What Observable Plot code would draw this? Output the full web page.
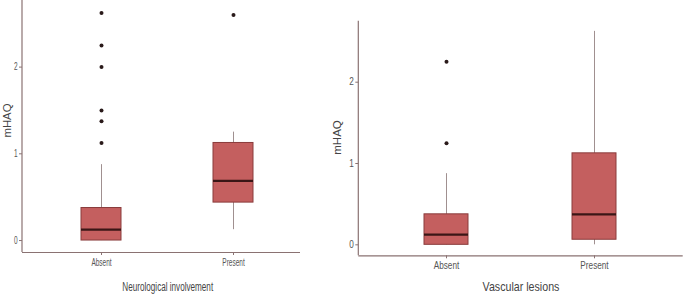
<!DOCTYPE html>
<html>
<head>
<meta charset="utf-8">
<script src="https://cdn.jsdelivr.net/npm/d3@7"></script>
<script src="https://cdn.jsdelivr.net/npm/@observablehq/plot@0.6"></script>
<style>
  html, body { margin: 0; padding: 0; background: #fff; }
  #wrap { position: relative; width: 685px; height: 297px; overflow: hidden; background: #fff; }
  #left, #right { position: absolute; top: 0; }
  #left { left: 0; width: 300px; height: 297px; overflow: hidden; }
  #right { left: 300px; width: 385px; height: 297px; overflow: hidden; }
  svg { overflow: hidden; }
  .narrow text { font-family: "Liberation Sans", Arial, sans-serif; }
</style>
</head>
<body>
<div id="wrap"><div id="left"></div><div id="right"></div></div>
<script>
// ---- Data ----
const categories = ["Absent", "Present"];
const yTicks = [0, 1, 2];

// Panel 1: Neurological involvement
const neuroTitle = "Neurological involvement";
const neuroQ1 = [0, 0.4375];
const neuroMedian = [0.125, 0.6875];
const neuroQ3 = [0.375, 1.125];
const neuroWhiskerLow = [0, 0.125];
const neuroWhiskerHigh = [0.875, 1.25];
const neuroOutliers = [
  ["Absent", 2.625], ["Absent", 2.25], ["Absent", 2.0], ["Absent", 1.5],
  ["Absent", 1.375], ["Absent", 1.125], ["Present", 2.6]
];

// Panel 2: Vascular lesions
const vascTitle = "Vascular lesions";
const vascQ1 = [0, 0.0625];
const vascMedian = [0.125, 0.375];
const vascQ3 = [0.375, 1.125];
const vascWhiskerLow = [0, 0];
const vascWhiskerHigh = [0.875, 2.625];
const vascOutliers = [["Absent", 2.25], ["Absent", 1.25]];

const yLabel = "mHAQ";

const FILL = "#c45f5f";
const EDGE = "#8a3c3c";
const MEDIAN = "#3a1616";
const AXIS = "#8a7272";
const WHISK = "#a09090";
const TXT = "#555";

function rows(q1, med, q3, lo, hi) {
  return categories.map((c, i) => ({cat: c, q1: q1[i], med: med[i], q3: q3[i], lo: lo[i], hi: hi[i]}));
}

function panel(o) {
  const data = rows(o.q1, o.med, o.q3, o.lo, o.hi);
  const outs = o.outliers.map(([c, v]) => ({cat: c, v}));
  const yMin = o.yDomain[0];
  return Plot.plot({
    width: o.width, height: 297,
    marginLeft: o.marginLeft, marginRight: o.marginRight,
    marginTop: o.marginTop, marginBottom: o.marginBottom,
    style: {background: "#fff", overflow: "hidden", fontFamily: "Liberation Sans, Arial, sans-serif"},
    x: {type: "band", domain: categories, range: o.xRange, paddingInner: 0.7, paddingOuter: o.po, align: 0.5, axis: null},
    y: {domain: o.yDomain, axis: null},
    marks: [
      Plot.ruleX(data, {x: "cat", y1: "lo", y2: "hi", stroke: WHISK, strokeWidth: 1}),
      Plot.barY(data, {x: "cat", y1: "q1", y2: "q3", fill: FILL, stroke: EDGE, strokeWidth: 1}),
      Plot.tickY(data, {x: "cat", y: "med", stroke: MEDIAN, strokeWidth: 2.2}),
      Plot.dot(outs, {x: "cat", y: "v", r: 2, fill: "#2a1a1a", stroke: null}),
      Plot.ruleY([yMin], {stroke: AXIS, strokeWidth: 1.2}),
      Plot.axisY(yTicks, {anchor: "left", tickSize: 3, tickPadding: 2, stroke: AXIS, fill: TXT,
        fontSize: o.tickFont, label: null, tickFormat: d3.format("d"), className: "narrow"}),
      Plot.axisX(categories, {anchor: "bottom", y: yMin, tickSize: 3, tickPadding: 3, stroke: AXIS, fill: TXT,
        fontSize: o.tickFont, label: null, className: "narrow"}),
      Plot.text([o.xTitle], {frameAnchor: "bottom", dy: o.xTitleDy, fontSize: o.xTitleFont, fill: "#444",
        className: "narrow"}),
      Plot.text([yLabel], {frameAnchor: "left", textAnchor: "middle", dx: o.yTitleDx, dy: o.yTitleDy, rotate: -90,
        fontSize: o.yTitleFont, fill: "#444"})
    ]
  });
}

const left = panel({
  width: 300, marginLeft: 22, marginRight: -12.5, marginTop: 0, marginBottom: 45,
  xRange: [22, 312.5], po: 0.446,
  yDomain: [-0.138, 2.768],
  q1: neuroQ1, med: neuroMedian, q3: neuroQ3, lo: neuroWhiskerLow, hi: neuroWhiskerHigh,
  outliers: neuroOutliers, xTitle: neuroTitle,
  tickFont: 10, xTitleFont: 12.5, xTitleDy: 38, yTitleFont: 11.3, yTitleDx: -15.5, yTitleDy: -6
});
const right = panel({
  width: 385, marginLeft: 58.3, marginRight: 2.3, marginTop: 20.7, marginBottom: 41.7,
  xRange: [358.3 - 300, 682.7 - 300], po: 0.442,
  yDomain: [-0.135, 2.75],
  q1: vascQ1, med: vascMedian, q3: vascQ3, lo: vascWhiskerLow, hi: vascWhiskerHigh,
  outliers: vascOutliers, xTitle: vascTitle,
  tickFont: 10, xTitleFont: 13, xTitleDy: 35, yTitleFont: 11.5, yTitleDx: -21.6, yTitleDy: -1
});
document.getElementById("left").appendChild(left);
document.getElementById("right").appendChild(right);

// y-axis lines and horizontal squeeze of the (narrow) horizontal texts, as in the reference
for (const [svg, ml, squeeze] of [[left, 22, 0.65], [right, 58.3, 0.82]]) {
  const ys = svg.scale("y");
  const [d0, d1] = ys.domain;
  d3.select(svg).append("line")
    .attr("x1", ml).attr("x2", ml)
    .attr("y1", ys.apply(d0)).attr("y2", ys.apply(d1))
    .attr("stroke", AXIS).attr("stroke-width", 1.2);
  d3.select(svg).selectAll(".narrow text").each(function () {
    const w = this.getComputedTextLength();
    if (w > 0) {
      this.setAttribute("textLength", (w * squeeze).toFixed(2));
      this.setAttribute("lengthAdjust", "spacingAndGlyphs");
    }
  });
}
</script>
</body>
</html>
